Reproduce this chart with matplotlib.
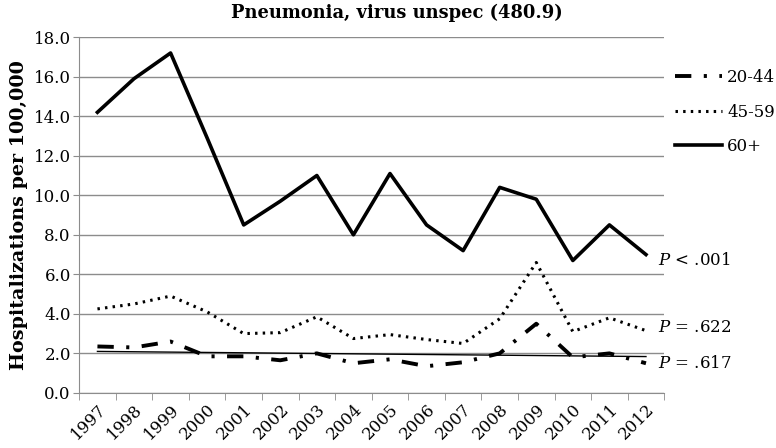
import numpy as np
import matplotlib
matplotlib.use('Agg')
import matplotlib.pyplot as plt

# Data
years = ['1997', '1998', '1999', '2000', '2001', '2002', '2003', '2004',
         '2005', '2006', '2007', '2008', '2009', '2010', '2011', '2012']
age_20_44 = [2.35, 2.3, 2.6, 1.85, 1.85, 1.65, 2.0, 1.5,
             1.7, 1.35, 1.55, 2.0, 3.5, 1.8, 2.0, 1.5]
age_45_59 = [4.25, 4.5, 4.9, 4.1, 3.0, 3.05, 3.85, 2.75,
             2.95, 2.7, 2.5, 3.75, 6.6, 3.1, 3.8, 3.15]
age_60 = [14.2, 15.9, 17.2, 12.9, 8.5, 9.7, 11.0, 8.0,
          11.1, 8.5, 7.2, 10.4, 9.8, 6.7, 8.5, 7.0]
p_labels = ['$P$ < .001', '$P$ = .622', '$P$ = .617']

plt.rcParams['font.family'] = ['DejaVu Serif']
plt.rcParams['mathtext.fontset'] = 'dejavuserif'

fig = plt.figure(figsize=(7.76, 4.48), dpi=100)
ax = fig.add_axes([0.102, 0.123, 0.754, 0.794])

x = np.arange(len(years))
ax.plot(x, age_20_44, color='black', lw=2.8, dashes=(4.2, 3.2, 0.8, 3.2),
        label='20-44')
ax.plot(x, age_45_59, color='black', lw=2.2, dashes=(0.8, 1.7),
        label='45-59')
ax.plot(x, age_60, color='black', lw=2.6, label='60+')

# linear trend of the youngest group
coef = np.polyfit(x, age_20_44, 1)
ax.plot(x, np.polyval(coef, x), color='black', lw=1.0)

ax.set_ylim(0, 18)
ax.set_yticks(np.arange(0, 18.1, 2))
ax.set_yticklabels([f'{v:.1f}' for v in np.arange(0, 18.1, 2)], fontsize=12)
ax.yaxis.grid(True, color='#8c8c8c', lw=1.0)
ax.set_axisbelow(True)

ax.set_xlim(-0.5, len(years) - 0.5)
ax.set_xticks(x)
ax.set_xticklabels(years, rotation=45, ha='right', rotation_mode='anchor',
                   fontsize=12)
ax.set_xticks(np.arange(-0.5, len(years), 1), minor=True)
ax.tick_params(axis='x', which='major', length=0, pad=6)
ax.tick_params(axis='x', which='minor', length=5, color='#8c8c8c')
ax.tick_params(axis='y', length=4, color='#8c8c8c', pad=2)

for side in ['top', 'right']:
    ax.spines[side].set_visible(False)
for side in ['left', 'bottom']:
    ax.spines[side].set_color('#8c8c8c')

ax.set_ylabel('Hospitalizations per 100,000', fontsize=13.8,
              fontweight='bold', labelpad=4)
fig.text(0.512, 0.972, 'Pneumonia, virus unspec (480.9)', fontsize=12.9,
         fontweight='bold', ha='center', va='center')

ax.legend(loc='center left', bbox_to_anchor=(1.019, 0.789), frameon=False,
          fontsize=12, handlelength=2.8, handletextpad=0.3,
          labelspacing=1.05, borderaxespad=0, borderpad=0)

offsets = [-4, 2, 0]
for lab, series, dy in zip(p_labels, [age_60, age_45_59, age_20_44], offsets):
    ax.annotate(lab, xy=(x[-1], series[-1]), xytext=(8.5, dy),
                textcoords='offset points', va='center', ha='left',
                fontsize=12, annotation_clip=False)

fig.savefig('out.png', dpi=100)
